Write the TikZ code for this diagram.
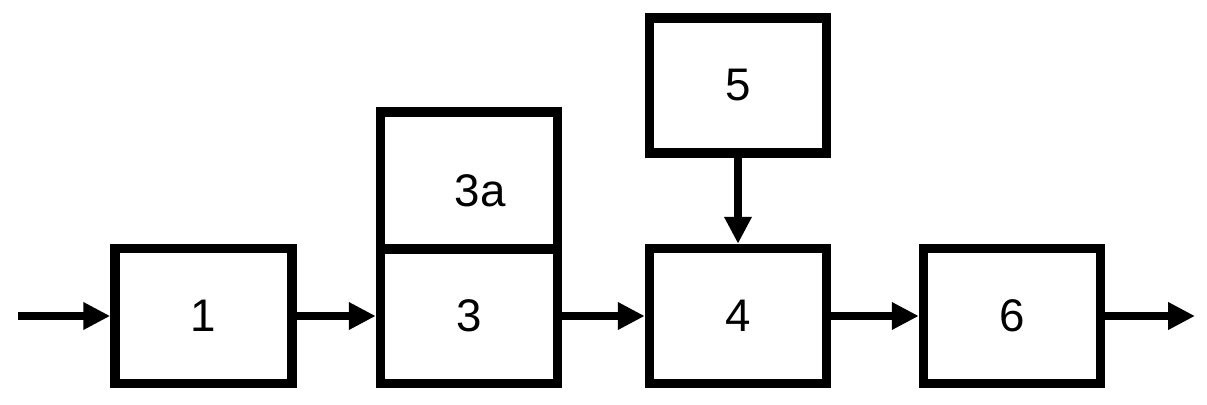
\documentclass[tikz,border=0pt]{standalone}
\usepackage{fontspec}
\setmainfont{Liberation Sans}
\usetikzlibrary{arrows.meta}
\begin{document}
\begin{tikzpicture}[>={Triangle[length=5.4mm,width=5.2mm]},line join=miter,font=\fontsize{26}{30}\selectfont,
	blk/.style={draw,line width=5.4pt,minimum width=3.54cm,minimum height=2.7cm,inner sep=0pt},
	flow/.style={->,line width=4pt}]
	\useasboundingbox (0,0) rectangle (24.14,8.08);
	\node[blk] (b1) at (4.07,1.76) {1};
	\node[blk] (b3) at (9.38,1.76) {3};
	\node[blk,minimum height=2.74cm] (b3a) at (9.38,4.47) {\hspace*{0.44cm}\raisebox{-0.2cm}[\height][\depth]{3a}};
	\node[blk] (b4) at (14.76,1.76) {4};
	\node[blk] (b5) at (14.76,6.37) {5};
	\node[blk] (b6) at (20.24,1.76) {6};
	\coordinate (in) at (0.36,1.76);
	\coordinate (out) at (23.9,1.76);
	\draw[flow] (in)--(b1);
	\draw[flow] (b1)--(b3);
	\draw[flow] (b3)--(b4);
	\draw[flow] (b4)--(b6);
	\draw[flow] (b6)--(out);
	\draw[flow] (b5)--(b4);
\end{tikzpicture}
\end{document}
